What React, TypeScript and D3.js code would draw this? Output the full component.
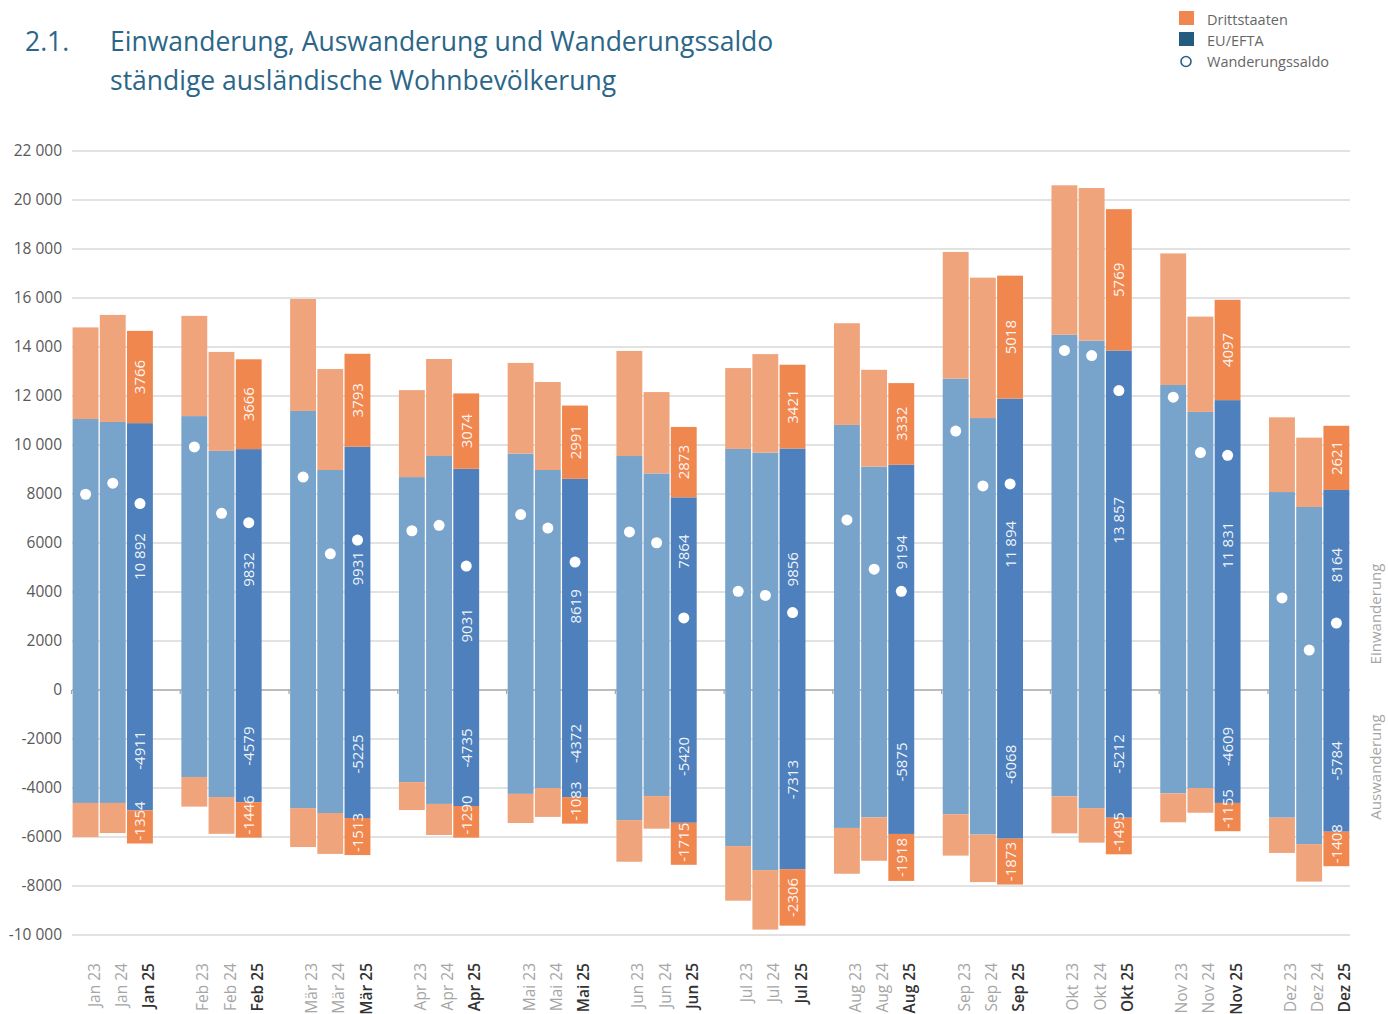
import React from 'react';
import * as d3 from 'd3';

const categories = [
  'Jan 23', 'Jan 24', 'Jan 25', 'Feb 23', 'Feb 24', 'Feb 25', 'Mär 23', 'Mär 24', 'Mär 25',
  'Apr 23', 'Apr 24', 'Apr 25', 'Mai 23', 'Mai 24', 'Mai 25', 'Jun 23', 'Jun 24', 'Jun 25',
  'Jul 23', 'Jul 24', 'Jul 25', 'Aug 23', 'Aug 24', 'Aug 25', 'Sep 23', 'Sep 24', 'Sep 25',
  'Okt 23', 'Okt 24', 'Okt 25', 'Nov 23', 'Nov 24', 'Nov 25', 'Dez 23', 'Dez 24', 'Dez 25',
];

// Einwanderung EU/EFTA
const euImmigration = [
  11060, 10940, 10892, 11180, 9760, 9832, 11390, 8980, 9931,
  8690, 9550, 9031, 9650, 8980, 8619, 9550, 8840, 7864,
  9840, 9690, 9856, 10820, 9120, 9194, 12710, 11100, 11894,
  14500, 14260, 13857, 12450, 11350, 11831, 8080, 7470, 8164,
];
// Einwanderung Drittstaaten
const thirdImmigration = [
  3740, 4370, 3766, 4090, 4040, 3666, 4570, 4120, 3793,
  3550, 3960, 3074, 3700, 3590, 2991, 4290, 3320, 2873,
  3300, 4020, 3421, 4150, 3950, 3332, 5170, 5730, 5018,
  6100, 6230, 5769, 5370, 3890, 4097, 3050, 2830, 2621,
];
// Auswanderung EU/EFTA
const euEmigration = [
  -4610, -4610, -4911, -3550, -4370, -4579, -4820, -5020, -5225,
  -3760, -4650, -4735, -4240, -4000, -4372, -5310, -4330, -5420,
  -6370, -7350, -7313, -5630, -5200, -5875, -5070, -5900, -6068,
  -4340, -4820, -5212, -4220, -4000, -4609, -5210, -6290, -5784,
];
// Auswanderung Drittstaaten
const thirdEmigration = [
  -1390, -1230, -1354, -1210, -1500, -1446, -1590, -1670, -1513,
  -1140, -1270, -1290, -1190, -1180, -1083, -1700, -1330, -1715,
  -2230, -2430, -2306, -1870, -1770, -1918, -1690, -1940, -1873,
  -1510, -1410, -1495, -1180, -1010, -1155, -1440, -1530, -1408,
];
// Wanderungssaldo
const netMigration = [
  7990, 8440, 7610, 9920, 7210, 6830, 8690, 5560, 6120,
  6500, 6720, 5060, 7160, 6610, 5220, 6450, 6010, 2940,
  4030, 3860, 3160, 6940, 4930, 4030, 10570, 8330, 8410,
  13860, 13650, 12220, 11950, 9690, 9580, 3760, 1630, 2730,
];

const yTickValues = [-10000, -8000, -6000, -4000, -2000, 0, 2000, 4000, 6000, 8000, 10000, 12000, 14000, 16000, 18000, 20000, 22000];
const legendLabels = ['Drittstaaten', 'EU/EFTA', 'Wanderungssaldo'];
const titleLines = ['Einwanderung, Auswanderung und Wanderungssaldo', 'ständige ausländische Wohnbevölkerung'];

const FONT = "'Open Sans', 'Noto Sans', sans-serif";
const W = 1388;
const H = 1014;

const fmt = (v: number) => {
  const a = Math.abs(v);
  const s = a >= 10000 ? d3.format(',')(a).replace(/,/g, ' ') : String(a);
  return (v < 0 ? '-' : '') + s;
};

const LABEL_FS = 15;
const textLen = (s: string) =>
  s.split('').reduce((acc, ch) => acc + (ch === '-' ? 0.322 : ch === ' ' ? 0.26 : 0.572), 0) * LABEL_FS;

// manual label shifts (px) used in the original to keep EU labels clear of the saldo dots
const labelShift: Record<string, number> = { 'Apr 25': 46, 'Mai 25': 22, 'Jun 25': -42, 'Aug 25': -25, 'Dez 25': -25 };

export default function App() {
  const left = 72;
  const right = 1350;
  const nSlots = categories.length + 11; // 3 bars per month plus a blank slot between months
  const slotOf = (i: number) => Math.floor(i / 3) * 4 + (i % 3);
  const x = d3.scaleBand<number>().domain(d3.range(nSlots)).range([left, right]).paddingInner(0).paddingOuter(0);
  const y = d3.scaleLinear().domain([-10000, 22000]).range([935, 151]);
  const bw = x.bandwidth();
  const barW = bw - 1.3;

  const colors = {
    euLight: '#78A3CB',
    euDark: '#4D80BC',
    thLight: '#F0A47B',
    thDark: '#F0874F',
  };

  const bars: React.ReactNode[] = [];
  const labels: React.ReactNode[] = [];
  const dots: React.ReactNode[] = [];
  categories.forEach((c, i) => {
    const is25 = i % 3 === 2;
    const bx = (x(slotOf(i)) as number) + 0.6;
    const cx = (x(slotOf(i)) as number) + bw / 2;
    const eu = is25 ? colors.euDark : colors.euLight;
    const th = is25 ? colors.thDark : colors.thLight;
    const segs = [
      { y0: 0, y1: euImmigration[i], fill: eu, v: euImmigration[i] },
      { y0: euImmigration[i], y1: euImmigration[i] + thirdImmigration[i], fill: th, v: thirdImmigration[i] },
      { y0: 0, y1: euEmigration[i], fill: eu, v: euEmigration[i] },
      { y0: euEmigration[i], y1: euEmigration[i] + thirdEmigration[i], fill: th, v: thirdEmigration[i] },
    ];
    const barBottom = y(euEmigration[i] + thirdEmigration[i]);
    segs.forEach((s, k) => {
      const top = y(Math.max(s.y0, s.y1));
      const bot = y(Math.min(s.y0, s.y1));
      bars.push(<rect key={`b${i}-${k}`} x={bx} y={top} width={barW} height={bot - top} fill={s.fill} />);
      if (is25) {
        const txt = fmt(s.v);
        let my = (top + bot) / 2;
        if (k === 0 && labelShift[c]) my += labelShift[c];
        if (k === 3) my = Math.min(my, barBottom - 3 - textLen(txt) / 2);
        labels.push(
          <text
            key={`l${i}-${k}`}
            transform={`translate(${cx + 5.5},${my}) rotate(-90)`}
            textAnchor="middle"
            fontFamily={FONT}
            fontSize={LABEL_FS}
            fill="#ffffff"
            fillOpacity={0.93}
          >
            {txt}
          </text>
        );
      }
    });
    dots.push(<circle key={`d${i}`} cx={cx} cy={y(netMigration[i])} r={5.5} fill="#ffffff" />);
  });

  return (
    <svg
      width={W}
      height={H}
      viewBox={`0 0 ${W} ${H}`}
      style={{ position: 'absolute', left: 0, top: 0, display: 'block', background: '#fff' }}
    >
      {/* Title */}
      <text x={25} y={51} fontFamily={FONT} fontSize={26.5} fill="#2B6688">2.1.</text>
      <text x={110} y={51} fontFamily={FONT} fontSize={26.5} fill="#2B6688">{titleLines[0]}</text>
      <text x={110} y={90} fontFamily={FONT} fontSize={26.5} fill="#2B6688">{titleLines[1]}</text>

      {/* Legend */}
      <rect x={1179} y={11} width={15} height={14} fill="#F0874F" />
      <rect x={1179} y={32} width={15} height={14} fill="#235C7E" />
      <circle cx={1186} cy={61.5} r={5} fill="#fff" stroke="#2B5F86" strokeWidth={1.6} />
      {legendLabels.map((t, i) => (
        <text key={t} x={1207} y={25 + i * 21} fontFamily={FONT} fontSize={14.5} fill="#666">{t}</text>
      ))}

      {/* Grid */}
      {yTickValues.filter((v) => v !== 0).map((v) => (
        <line key={`g${v}`} x1={left} x2={right} y1={y(v)} y2={y(v)} stroke="#D9D9D9" strokeWidth={1.5} />
      ))}
      {yTickValues.map((v) => (
        <text key={`t${v}`} x={62} y={y(v) + 5} textAnchor="end" fontFamily={FONT} fontSize={15.5} fill="#595959">
          {fmt(v)}
        </text>
      ))}
      <line x1={left} x2={right} y1={y(0)} y2={y(0)} stroke="#A6A6A6" strokeWidth={1.5} />
      {d3.range(12).map((m) => {
        const tx = (x(m * 4) as number) - 0.5;
        return <line key={`k${m}`} x1={tx} x2={tx} y1={y(0)} y2={y(0) + 4} stroke="#A6A6A6" strokeWidth={1.2} />;
      })}

      {bars}
      {dots}
      {labels}

      {/* X labels */}
      {categories.map((c, i) => {
        const is25 = i % 3 === 2;
        const cx = (x(slotOf(i)) as number) + bw / 2;
        return (
          <text
            key={`x${i}`}
            transform={`translate(${cx + 14},963) rotate(-90)`}
            textAnchor="end"
            fontFamily={FONT}
            fontSize={15.5}
            fontWeight={is25 ? 600 : 400}
            fill={is25 ? '#333' : '#A6A6A6'}
          >
            {c}
          </text>
        );
      })}

      {/* Right side axis titles */}
      <text transform={`translate(1381,614) rotate(-90)`} textAnchor="middle" fontFamily={FONT} fontSize={15} fill="#A6A6A6">Einwanderung</text>
      <text transform={`translate(1381,767) rotate(-90)`} textAnchor="middle" fontFamily={FONT} fontSize={15} fill="#A6A6A6">Auswanderung</text>
    </svg>
  );
}
